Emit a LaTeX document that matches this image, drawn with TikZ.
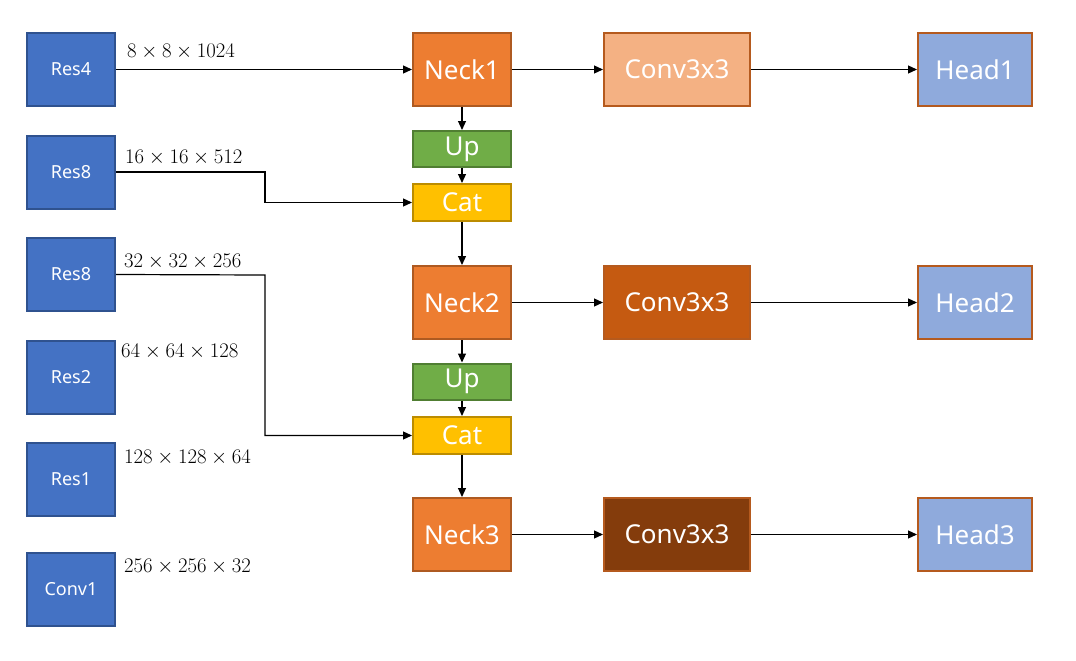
\documentclass[tikz,border=0pt]{standalone}
\usepackage{fontspec}
\newfontfamily\boxfont{Noto Sans}
\usetikzlibrary{arrows.meta}
\definecolor{resfill}{HTML}{4472C4}
\definecolor{resdraw}{HTML}{2F528F}
\definecolor{neckfill}{HTML}{ED7D31}
\definecolor{neckdraw}{HTML}{AE5A21}
\definecolor{upfill}{HTML}{70AD47}
\definecolor{updraw}{HTML}{507E32}
\definecolor{catfill}{HTML}{FFC000}
\definecolor{catdraw}{HTML}{BC8C00}
\definecolor{convafill}{HTML}{F4B183}
\definecolor{convbfill}{HTML}{C55A11}
\definecolor{convcfill}{HTML}{843C0C}
\definecolor{convdraw}{HTML}{B55A1E}
\definecolor{headfill}{HTML}{8FAADC}
\begin{document}
\begin{tikzpicture}[x=1pt,y=1pt,
  blk/.style={draw, line width=2pt, inner sep=0pt, text=white, font=\boxfont\fontsize{26}{30}\selectfont},
  resbox/.style={blk, fill=resfill, draw=resdraw, minimum width=88pt, minimum height=73pt, font=\boxfont\fontsize{18}{22}\selectfont},
  neckbox/.style={blk, fill=neckfill, draw=neckdraw, minimum width=98pt, minimum height=73pt},
  upbox/.style={blk, fill=upfill, draw=updraw, minimum width=98pt, minimum height=36pt},
  catbox/.style={blk, fill=catfill, draw=catdraw, minimum width=98pt, minimum height=37pt},
  convbox/.style={blk, draw=convdraw, minimum width=146pt, minimum height=73pt},
  headbox/.style={blk, fill=headfill, draw=convdraw, minimum width=114pt, minimum height=73pt},
  dimlabel/.style={anchor=base west, inner sep=0pt, font=\fontsize{21}{25}\selectfont},
  conn/.style={line width=1.2pt, -{Triangle[length=9pt,width=8pt]}}
]
\useasboundingbox (0,0) rectangle (1076,-661);

% left column
\node[resbox] (res4) at (71,-69.5) {Res4};
\node[resbox] (res8a) at (71,-172) {Res8};
\node[resbox] (res8b) at (71,-274.5) {Res8};
\node[resbox] (res2) at (71,-377.5) {Res2};
\node[resbox] (res1) at (71,-479.5) {Res1};
\node[resbox] (conv1) at (71,-589) {Conv1};

% labels
\node[dimlabel] (l1) at (127,-58) {$8\times8\times1024$};
\node[dimlabel] (l2) at (125,-163) {$16\times16\times512$};
\node[dimlabel] (l3) at (124,-267) {$32\times32\times256$};
\node[dimlabel] (l4) at (121,-357) {$64\times64\times128$};
\node[dimlabel] (l5) at (124,-463) {$128\times128\times64$};
\node[dimlabel] (l6) at (124,-572) {$256\times256\times32$};

% middle column
\node[neckbox] (neck1) at (462,-69.5) {Neck1};
\node[upbox] (up1) at (462,-149) {Up};
\node[catbox] (cat1) at (462,-202.5) {Cat};
\node[neckbox] (neck2) at (462,-302.5) {Neck2};
\node[upbox] (up2) at (462,-381.5) {Up};
\node[catbox] (cat2) at (462,-435.5) {Cat};
\node[neckbox] (neck3) at (462,-534.5) {Neck3};

% conv column
\node[convbox, fill=convafill] (c1) at (677,-69.5) {Conv3x3};
\node[convbox, fill=convbfill] (c2) at (677,-302.5) {Conv3x3};
\node[convbox, fill=convcfill] (c3) at (677,-534.5) {Conv3x3};

% heads
\node[headbox] (h1) at (975,-69.5) {Head1};
\node[headbox] (h2) at (975,-302.5) {Head2};
\node[headbox] (h3) at (975,-534.5) {Head3};

\coordinate (k1) at (265,-172);
\coordinate (k2) at (265,-275);

% connectors
\draw[conn] (res4) -- (neck1);
\draw[conn] (neck1) -- (c1);
\draw[conn] (c1) -- (h1);
\draw[conn] (neck2) -- (c2);
\draw[conn] (c2) -- (h2);
\draw[conn] (neck3) -- (c3);
\draw[conn] (c3) -- (h3);
\draw[conn] (neck1) -- (up1);
\draw[conn] (up1) -- (cat1);
\draw[conn] (cat1) -- (neck2);
\draw[conn] (neck2) -- (up2);
\draw[conn] (up2) -- (cat2);
\draw[conn] (cat2) -- (neck3);
\draw[conn] (res8a.east) -- (k1) |- (cat1.west);
\draw[conn] (res8b.east) -- (k2) |- (cat2.west);
\end{tikzpicture}
\end{document}
